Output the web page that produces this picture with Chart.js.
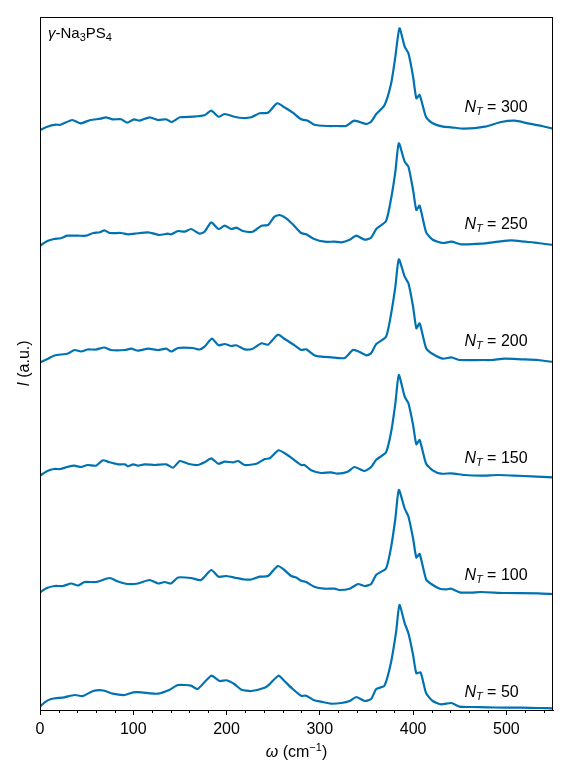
<!DOCTYPE html>
<html>
<head>
<meta charset="utf-8">
<script src="https://cdn.jsdelivr.net/npm/chart.js@4"></script>
<style>
  html, body { margin: 0; padding: 0; background: #fff; }
  canvas { display: block; }
</style>
</head>
<body>
<canvas id="raman" width="571" height="780"></canvas>
<script>
// Raman spectra of gamma-Na3PS4, one trace per N_T
const labels = [50, 100, 150, 200, 250, 300];
const traceOffsets = [0, 1.155, 2.31, 3.465, 4.62, 5.775];
const xTicks = [0, 100, 200, 300, 400, 500];

const omega50 = [0,5,12,26,37,46,57,68,78,91, 100,109,117.5,126.5,139,148,162,169,183.6,192.5, 200,208.6,216,226.5,240.7,246,255.7,262,271,280, 285.4,294,301.4,312,323,332,339,348,355,360.5, 369.3,376.5,381.8,385.4,391,395,400,403.5,408,414, 421,430,441,450,462,480,498,516,534,550];
const int50 = [0.033,0.077,0.11,0.127,0.15,0.14,0.19,0.195,0.163,0.15, 0.177,0.177,0.167,0.163,0.203,0.25,0.243,0.21,0.343,0.29, 0.297,0.257,0.203,0.19,0.223,0.257,0.343,0.29,0.21,0.143, 0.143,0.097,0.083,0.063,0.07,0.09,0.13,0.09,0.11,0.21, 0.243,0.483,0.783,1.05,0.867,0.767,0.55,0.367,0.377,0.167, 0.09,0.057,0.07,0.033,0.03,0.027,0.023,0.023,0.02,0.017];

const omega100 = [0,6.8,15.7,24.6,33.6,40.7,47.8,60.3,74.6,83.6, 94,105,117.5,126.5,133.6,140.7,148,162,172.6,183.6, 191.4,200,210.5,219.5,226.5,235.4,244.4,255,262,269.3, 274.6,280,285.4,294,305,315.7,321,332,341,348, 355,360.5,371,376.5,381,384.7,391,395,400,403.5, 407,414,419.5,428.6,435.7,441,450,462,473,498, 534,550];
const int100 = [0.02,0.062,0.085,0.085,0.11,0.09,0.125,0.125,0.165,0.13, 0.105,0.11,0.145,0.11,0.125,0.11,0.17,0.165,0.145,0.245, 0.178,0.185,0.165,0.15,0.15,0.178,0.185,0.285,0.245,0.185, 0.17,0.138,0.125,0.078,0.058,0.058,0.045,0.058,0.105,0.085, 0.105,0.198,0.26,0.478,0.76,1.045,0.86,0.78,0.56,0.37, 0.405,0.15,0.105,0.058,0.052,0.058,0.022,0.018,0.025,0.015, 0.012,0.005];

const omega150 = [0,7.9,15,22,29,37,44,51,60,67.5, 74.6,83.6,91,94.3,100,105,112,123,135.4,142.6, 150,158.6,169,176.4,183.6,191,198,207,212.4,219.5, 232,241,246.3,255.7,262,269.3,280,283.6,290.7,301.4, 312,319,330,337,348,355,360.5,371,376.5,381, 384.7,391,395,400,403.5,407,414,421,430,441, 455,473,491,509,527,550];
const int150 = [0.033,0.08,0.1,0.1,0.12,0.133,0.12,0.14,0.133,0.187, 0.167,0.147,0.147,0.127,0.147,0.133,0.147,0.14,0.147,0.113, 0.18,0.153,0.14,0.167,0.207,0.153,0.173,0.167,0.18,0.14, 0.153,0.2,0.207,0.287,0.26,0.213,0.14,0.14,0.087,0.06, 0.067,0.053,0.073,0.12,0.08,0.12,0.193,0.267,0.473,0.757, 1.04,0.823,0.757,0.54,0.347,0.39,0.153,0.087,0.053,0.057, 0.04,0.033,0.04,0.033,0.027,0.017];

const omega200 = [0,6.8,15.7,29.9,37,44,51,60,69,76, 91,98,105,116,126.5,135.4,140.7,148,164,171, 176.4,184.3,191.4,198,205,210.5,219.5,228,237.5,244.4, 255,262,273,280,285.4,294,301.4,312,326.5,335.4, 341,350,355,360.5,371,376.5,381,384.7,391,395, 400,403.5,407,414,421,432,441,450,473,484, 498,516,534,550];
const int200 = [0.01,0.04,0.08,0.1,0.135,0.12,0.14,0.14,0.16,0.135, 0.135,0.148,0.128,0.148,0.135,0.148,0.12,0.155,0.155,0.14, 0.168,0.248,0.182,0.195,0.175,0.182,0.142,0.148,0.202,0.188, 0.288,0.248,0.182,0.135,0.142,0.082,0.068,0.062,0.055,0.135, 0.122,0.082,0.102,0.195,0.268,0.5,0.768,1.042,0.868,0.802, 0.568,0.352,0.402,0.152,0.095,0.048,0.062,0.035,0.035,0.035, 0.048,0.042,0.035,0.015];

const omega250 = [0,7.9,15,22,29,40.7,49.6,57,64,69, 74.6,87,94.3,101.5,116,128,137,140.7,148,155, 162,171,176.4,183.6,191.4,198,205,210.5,217.5,228, 237.5,244.4,251.4,257,264,271,280,285.4,294,305, 315.7,323,332,339,348,355,360.5,371,376.5,381, 384.7,391,395,400,403.5,407,414,421,432,441, 451.6,473,491,505,520,534,550];
const int250 = [0.023,0.07,0.09,0.097,0.123,0.123,0.123,0.15,0.157,0.177, 0.15,0.15,0.137,0.143,0.157,0.13,0.143,0.137,0.17,0.163, 0.19,0.143,0.163,0.257,0.19,0.223,0.19,0.203,0.17,0.163, 0.223,0.23,0.313,0.33,0.297,0.237,0.15,0.137,0.09,0.063, 0.063,0.057,0.083,0.123,0.083,0.103,0.19,0.27,0.497,0.763, 1.047,0.863,0.813,0.58,0.38,0.423,0.157,0.083,0.05,0.063, 0.037,0.043,0.063,0.077,0.063,0.05,0.03];

const omega300 = [0,7.9,16.8,22,34.6,43.6,54,65,70.4,78, 87,93.6,100.7,106.8,117.5,126.5,135.4,141.4,150,164, 176.4,183.6,191.4,198,208.6,217.5,226.5,235.4,244.4,254.3, 262,271,280,287,294,308.5,319,328,337,350, 355,360.5,369.3,376.5,381,385.4,391,395,400,403.5, 407,414,421,432,441,455,477,494.5,509,523, 538,550];
const int300 = [0.025,0.058,0.078,0.078,0.125,0.092,0.125,0.138,0.152,0.132, 0.132,0.098,0.132,0.118,0.152,0.125,0.132,0.105,0.152,0.158, 0.172,0.218,0.158,0.185,0.158,0.145,0.152,0.192,0.198,0.292, 0.252,0.198,0.132,0.118,0.078,0.065,0.065,0.065,0.118,0.085, 0.108,0.185,0.272,0.492,0.758,1.042,0.858,0.792,0.558,0.342, 0.375,0.152,0.092,0.058,0.052,0.038,0.058,0.105,0.118,0.092, 0.065,0.038];

const omegas = [omega50, omega100, omega150, omega200, omega250, omega300];
const intensities = [int50, int100, int150, int200, int250, int300];

const FONT = '"Liberation Sans", Arial, Helvetica, sans-serif';
const LINE_COLOR = '#0072b2';

// draw a run of text pieces with their own fonts and vertical shifts
function richText(ctx, parts, x, y, align) {
  let width = 0;
  for (const p of parts) {
    ctx.font = p.font;
    width += ctx.measureText(p.t).width;
  }
  let cx = align === 'center' ? x - width / 2 : x;
  for (const p of parts) {
    ctx.font = p.font;
    ctx.fillText(p.t, cx, y + (p.dy || 0));
    cx += ctx.measureText(p.t).width;
  }
}

const decor = {
  id: 'decor',
  afterDraw(chart) {
    const { ctx, chartArea: a, scales: { x, y } } = chart;
    ctx.save();
    // axes frame
    ctx.strokeStyle = '#000';
    ctx.lineWidth = 1;
    ctx.strokeRect(a.left + 0.5, a.top + 0.5, a.right - a.left - 1, a.bottom - a.top);

    // minor ticks every 20
    for (let w = 20; w <= 550; w += 20) {
      if (w % 100 === 0) continue;
      const px = Math.round(x.getPixelForValue(w)) + 0.5;
      ctx.beginPath();
      ctx.moveTo(px, a.bottom);
      ctx.lineTo(px, a.bottom + 3);
      ctx.stroke();
    }

    ctx.fillStyle = '#000';
    ctx.textBaseline = 'alphabetic';

    // trace labels
    labels.forEach((n, k) => {
      const lx = x.getPixelForValue(455);
      const ly = y.getPixelForValue(traceOffsets[k] + 0.19 + 0.015 * k) + 6;
      richText(ctx, [
        { t: 'N', font: 'italic 16px ' + FONT },
        { t: 'T', font: 'italic 11px ' + FONT, dy: 3 },
        { t: ' = ' + n, font: '16px ' + FONT }
      ], lx, ly, 'left');
    });

    // compound label
    richText(ctx, [
      { t: 'γ', font: 'italic 15px ' + FONT },
      { t: '-Na', font: '15px ' + FONT },
      { t: '3', font: '11px ' + FONT, dy: 3 },
      { t: 'PS', font: '15px ' + FONT },
      { t: '4', font: '11px ' + FONT, dy: 3 }
    ], a.left + 8, a.top + 21, 'left');

    // x title
    richText(ctx, [
      { t: 'ω', font: 'italic 16px ' + FONT },
      { t: ' (cm', font: '16px ' + FONT },
      { t: '−1', font: '11px ' + FONT, dy: -6 },
      { t: ')', font: '16px ' + FONT }
    ], (a.left + a.right) / 2, 757, 'center');

    // y title
    ctx.translate(29, (a.top + a.bottom) / 2);
    ctx.rotate(-Math.PI / 2);
    richText(ctx, [
      { t: 'I', font: 'italic 16px ' + FONT },
      { t: ' (a.u.)', font: '16px ' + FONT }
    ], 0, 0, 'center');
    ctx.restore();
  }
};

const datasets = labels.map((n, k) => ({
  label: 'N_T = ' + n,
  data: omegas[k].map((w, i) => ({ x: w, y: intensities[k][i] + traceOffsets[k] })),
  borderColor: LINE_COLOR,
  borderWidth: 2.2,
  pointRadius: 0,
  tension: 0.2,
  fill: false
}));

new Chart(document.getElementById('raman').getContext('2d'), {
  type: 'line',
  data: { datasets },
  options: {
    responsive: false,
    animation: false,
    layout: { padding: { left: 40, right: 18, top: 17, bottom: 0 } },
    plugins: { legend: { display: false }, tooltip: { enabled: false } },
    scales: {
      x: {
        type: 'linear',
        min: 0,
        max: 550,
        afterBuildTicks(scale) {
          scale.ticks = xTicks.map(v => ({ value: v }));
        },
        afterFit(scale) { scale.height = 70; },
        grid: { drawOnChartArea: false, tickLength: 5, tickColor: '#000' },
        border: { display: true, color: '#000', width: 1 },
        ticks: { color: '#000', font: { family: FONT, size: 16 }, padding: 5, maxRotation: 0 }
      },
      y: {
        display: false,
        min: 0,
        max: 6.93
      }
    }
  },
  plugins: [decor]
});
</script>
</body>
</html>
